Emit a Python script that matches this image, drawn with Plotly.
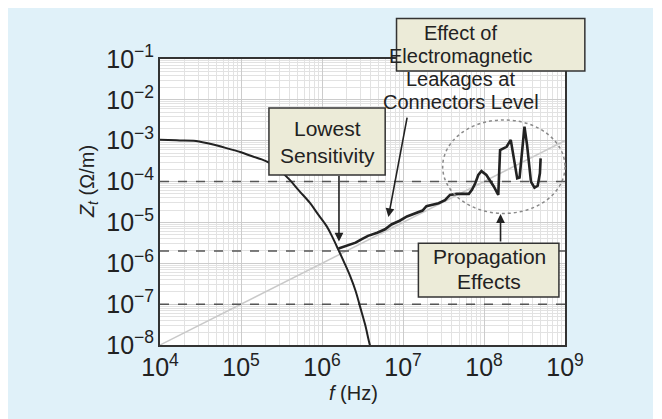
"""
Transfer impedance Z_t versus frequency: measured curve, sensitivity floor
and the reference levels, with the three call-out boxes.
"""

import math

import plotly.graph_objects as go

# ── Data ──────────────────────────────────────────────────────────────────────
# Sensitivity (noise floor) curve that rolls off above ~1 MHz
floor_f = [1.0e4, 1.6e4, 2.6e4, 4.0e4, 6.6e4, 1.0e5, 1.4e5, 1.8e5, 2.3e5, 3.0e5,
           4.0e5, 5.2e5, 7.1e5, 8.9e5, 1.15e6, 1.35e6, 1.6e6, 1.9e6, 2.24e6,
           2.6e6, 2.95e6, 3.4e6, 3.9e6, 4.2e6]
floor_z = [1.05e-3, 1.02e-3, 1.0e-3, 8.5e-4, 6.6e-4, 5.2e-4, 4.1e-4, 3.5e-4, 2.8e-4,
           1.9e-4, 1.1e-4, 6.0e-5, 3.0e-5, 1.6e-5, 7.9e-6, 4.3e-6, 2.1e-6, 1.0e-6,
           4.7e-7, 2.1e-7, 8.7e-8, 3.2e-8, 1.0e-8, 6.3e-9]

# Measured transfer impedance
meas_f = [1.6e6, 1.9e6, 2.6e6, 3.1e6, 3.7e6, 4.8e6, 6.0e6, 7.2e6, 9.1e6, 1.12e7,
          1.4e7, 1.74e7, 1.95e7, 2.24e7, 2.75e7, 3.3e7, 3.8e7, 4.6e7, 6.5e7, 7.1e7,
          7.8e7, 8.5e7, 9.3e7, 1.07e8, 1.32e8, 1.5e8, 1.58e8, 1.74e8, 1.9e8, 2.14e8,
          2.3e8, 2.57e8, 2.75e8, 3.0e8, 3.16e8, 3.4e8, 3.8e8, 4.2e8, 4.6e8, 4.9e8,
          5.0e8]
meas_z = [2.3e-6, 2.6e-6, 3.2e-6, 3.9e-6, 4.7e-6, 5.6e-6, 6.8e-6, 8.9e-6, 1.1e-5,
          1.4e-5, 1.66e-5, 1.95e-5, 2.5e-5, 2.7e-5, 2.95e-5, 3.5e-5, 4.7e-5, 5.0e-5,
          5.0e-5, 6.3e-5, 9.1e-5, 1.45e-4, 1.8e-4, 1.45e-4, 7.6e-5, 4.7e-5, 5.9e-4,
          6.5e-4, 7.1e-4, 1.05e-3, 4.5e-4, 1.2e-4, 1.26e-4, 6.5e-4, 2.2e-3, 7.9e-4,
          1.0e-4, 7.1e-5, 7.9e-5, 1.6e-4, 3.7e-4]

# Inductive asymptote (light grey diagonal)
trend_f = [1.0e4, 1.0e9]
trend_z = [1.0e-8, 1.0e-3]

# Dashed reference levels
ref_levels = [1.0e-4, 2.0e-6, 1.0e-7]
f_range = [1.0e4, 1.0e9]
z_range = [1.0e-8, 1.0e-1]

# Arrow tips (f, Z)
tip_lowest = (1.62e6, 3.4e-6)
tip_leakage = (6.6e6, 1.35e-5)
tip_propagation = (1.6e8, 1.6e-5)

FONT = "Liberation Sans, Arial, Helvetica, sans-serif"
INK = "#222222"
BOX_FILL = "#ecebd8"

fig = go.Figure()

# ── Traces ────────────────────────────────────────────────────────────────────
fig.add_trace(go.Scatter(
    x=trend_f, y=trend_z, mode="lines",
    line=dict(color="#c9c9c9", width=1.5), hoverinfo="skip",
))
for level in ref_levels:
    fig.add_trace(go.Scatter(
        x=f_range, y=[level, level], mode="lines",
        line=dict(color="#555555", width=1.5, dash="dash"), hoverinfo="skip",
    ))
fig.add_trace(go.Scatter(
    x=floor_f, y=floor_z, mode="lines", line_shape="spline",
    line=dict(color=INK, width=2),
))
fig.add_trace(go.Scatter(
    x=meas_f, y=meas_z, mode="lines",
    line=dict(color=INK, width=2.6),
))

# ── Decorations ───────────────────────────────────────────────────────────────
shapes = [
    # dotted ellipse around the resonances
    dict(type="circle", xref="paper", yref="paper", x0=0.698, x1=1.0, y0=0.460, y1=0.787,
         line=dict(color="#8a8a8a", width=1.5, dash="dot")),
]
boxes = [
    (0.269, 0.556, 0.594, 0.829),   # Lowest Sensitivity
    (0.584, 1.049, 0.958, 1.142),   # Electromagnetic leakages
    (0.638, 0.985, 0.168, 0.356),   # Propagation effects
]
for x0, x1, y0, y1 in boxes:
    shapes.append(dict(type="rect", xref="paper", yref="paper",
                       x0=x0, x1=x1, y0=y0, y1=y1,
                       fillcolor=BOX_FILL, line=dict(color="#333333", width=1.5)))

box_lines = [
    (0.413, 0.757, "Lowest", 21),
    (0.413, 0.664, "Sensitivity", 21),
    (0.7427, 1.091, "Effect of", 20),
    (0.7427, 1.010, "Electromagnetic", 20),
    (0.7427, 0.930, "Leakages at", 20),
    (0.7427, 0.850, "Connectors Level", 20),
    (0.813, 0.309, "Propagation", 21),
    (0.813, 0.222, "Effects", 21),
]
annotations = [
    dict(text=t, x=x, y=y, xref="paper", yref="paper", showarrow=False,
         xanchor="center", yanchor="middle", font=dict(size=s, color=INK, family=FONT))
    for x, y, t, s in box_lines
]

# arrows (annotation coordinates on log axes are log10 values)
for (tf, tz), ax, ay in [(tip_lowest, 0, -67), (tip_leakage, 19, -101),
                         (tip_propagation, 0, 29)]:
    annotations.append(dict(
        text="", x=math.log10(tf), y=math.log10(tz), xref="x", yref="y",
        showarrow=True, arrowhead=2, arrowsize=1.1, arrowwidth=1.6,
        arrowcolor=INK, ax=ax, ay=ay, standoff=0,
    ))

# axis titles
annotations.append(dict(
    text="<i>Z<sub>t</sub></i> (Ω/m)", x=-0.175, y=0.57, xref="paper", yref="paper",
    textangle=-90, showarrow=False, xanchor="center", yanchor="middle",
    font=dict(size=20, color=INK, family=FONT),
))
annotations.append(dict(
    text="<i>f</i> (Hz)", x=0.479, y=-0.168, xref="paper", yref="paper",
    showarrow=False, xanchor="center", yanchor="middle",
    font=dict(size=20, color=INK, family=FONT),
))

axis_common = dict(
    type="log", dtick=1, exponentformat="power", showexponent="all",
    showgrid=True, gridcolor="#cccccc", gridwidth=1,
    minor=dict(dtick="D1", showgrid=True, gridcolor="#e2e2e2", gridwidth=1, ticks=""),
    showline=True, linecolor="#333333", linewidth=2, mirror=True,
    ticks="", zeroline=False,
    tickfont=dict(size=20, color=INK, family=FONT),
)

# the page adds an 8 px body margin, so the figure is 8 px smaller each way
fig.update_layout(
    width=645, height=411,
    margin=dict(l=152, r=88, t=51, b=74),
    paper_bgcolor="#e0f1f9",
    plot_bgcolor="white",
    showlegend=False,
    font=dict(family=FONT, color=INK),
    xaxis=dict(range=[math.log10(f_range[0]), math.log10(f_range[1])], **axis_common),
    yaxis=dict(range=[math.log10(z_range[0]), math.log10(z_range[1])], **axis_common),
    shapes=shapes,
    annotations=annotations,
)

fig.write_html("out.html")
